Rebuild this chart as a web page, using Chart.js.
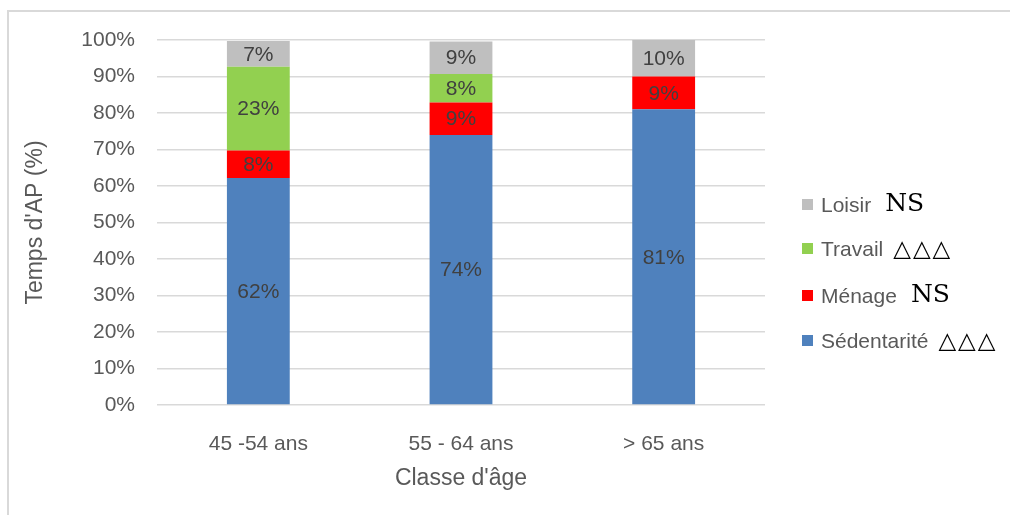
<!DOCTYPE html>
<html>
<head>
<meta charset="utf-8">
<script src="https://cdn.jsdelivr.net/npm/chart.js@4"></script>
<style>
  body { margin: 0; background: #fff; }
  #wrap { position: relative; width: 1010px; height: 515px; }
  #frame { position: absolute; left: 7px; top: 10px; right: 0; bottom: 0;
    border-left: 2px solid #d9d9d9; border-top: 2px solid #d9d9d9; }
  #legend { position: absolute; left: 802px; top: 0; font-family: "Liberation Sans", Arial, sans-serif; color: #595959; }
  .item { position: absolute; left: 0; white-space: nowrap; font-size: 21px; line-height: 22px; }
  .sw { display: inline-block; width: 11px; height: 11px; margin-right: 8px; vertical-align: 2px; }
  .ns { font-family: "DejaVu Serif", "Liberation Serif", serif; font-size: 25px; color: #000; margin-left: 14px; vertical-align: 1px; }
  .tri { font-family: "DejaVu Sans", sans-serif; font-size: 23px; color: #000; margin-left: 10px; letter-spacing: 2px; }
</style>
</head>
<body>
<div id="wrap">
  <div id="frame"></div>
  <canvas id="c" width="1010" height="515"></canvas>
  <div id="legend"></div>
</div>
<script>
// Categories and series (share of time, %)
const categories = ['45 -54 ans', '55 - 64 ans', '> 65 ans'];
const sedentarite = [62.2, 74.0, 81.0];
const menage = [7.5, 8.9, 9.0];
const travail = [23.0, 7.8, 0];
const loisir = [7.0, 8.9, 10.0];
const yTicks = [0, 10, 20, 30, 40, 50, 60, 70, 80, 90, 100];

const series = [
  { label: 'Sédentarité', data: sedentarite, color: '#4f81bd', mark: 'tri' },
  { label: 'Ménage', data: menage, color: '#ff0000', mark: 'ns' },
  { label: 'Travail', data: travail, color: '#92d050', mark: 'tri' },
  { label: 'Loisir', data: loisir, color: '#bfbfbf', mark: 'ns' }
];

const font = "'Liberation Sans', Arial, sans-serif";
const textColor = '#595959';

// Draw rounded percentage in the middle of each segment
const segmentLabels = {
  id: 'segmentLabels',
  afterDatasetsDraw(chart) {
    const ctx = chart.ctx;
    ctx.save();
    ctx.font = '21px ' + font;
    ctx.fillStyle = '#404040';
    ctx.textAlign = 'center';
    ctx.textBaseline = 'middle';
    chart.data.datasets.forEach((ds, i) => {
      chart.getDatasetMeta(i).data.forEach((bar, j) => {
        const v = ds.data[j];
        if (!v) return;
        const mid = (bar.y + bar.base) / 2;
        ctx.fillText(Math.round(v) + '%', bar.x, mid + 1);
      });
    });
    ctx.restore();
  }
};

new Chart(document.getElementById('c'), {
  type: 'bar',
  data: {
    labels: categories,
    datasets: series.map(s => ({
      label: s.label,
      data: s.data,
      backgroundColor: s.color,
      borderWidth: 0,
      categoryPercentage: 1,
      barPercentage: 0.31
    }))
  },
  options: {
    responsive: false,
    animation: false,
    layout: { padding: { left: 10, right: 245, top: 40, bottom: 20 } },
    plugins: { legend: { display: false }, tooltip: { enabled: false } },
    scales: {
      x: {
        stacked: true,
        grid: { display: false },
        border: { display: false },
        ticks: { color: textColor, font: { family: font, size: 21 }, padding: 19 },
        title: { display: true, text: "Classe d'âge", color: textColor,
          font: { family: font, size: 23 }, padding: { top: 6, bottom: 3 } },
        afterFit(scale) { scale.height = 90; }
      },
      y: {
        stacked: true,
        min: 0,
        max: 100,
        afterBuildTicks(scale) { scale.ticks = yTicks.map(v => ({ value: v })); },
        grid: { color: '#d9d9d9', lineWidth: 1.5, drawTicks: false },
        border: { display: false },
        ticks: { color: textColor, font: { family: font, size: 21 }, padding: 22,
          callback: v => v + '%' },
        title: { display: true, text: "Temps d'AP (%)", color: textColor,
          font: { family: font, size: 23 }, padding: { top: 12, bottom: 0 } },
        afterFit(scale) { scale.width = 147; }
      }
    }
  },
  plugins: [segmentLabels]
});

// Legend with the significance marks, top to bottom
const legendTops = [192, 237, 283, 329];
const legend = document.getElementById('legend');
series.slice().reverse().forEach((s, i) => {
  const el = document.createElement('div');
  el.className = 'item';
  el.style.top = legendTops[i] + 'px';
  const mark = s.mark === 'ns'
    ? '<span class="ns">NS</span>'
    : '<span class="tri">△△△</span>';
  el.innerHTML = '<span class="sw" style="background:' + s.color + '"></span>' + s.label + mark;
  legend.appendChild(el);
});
</script>
</body>
</html>
